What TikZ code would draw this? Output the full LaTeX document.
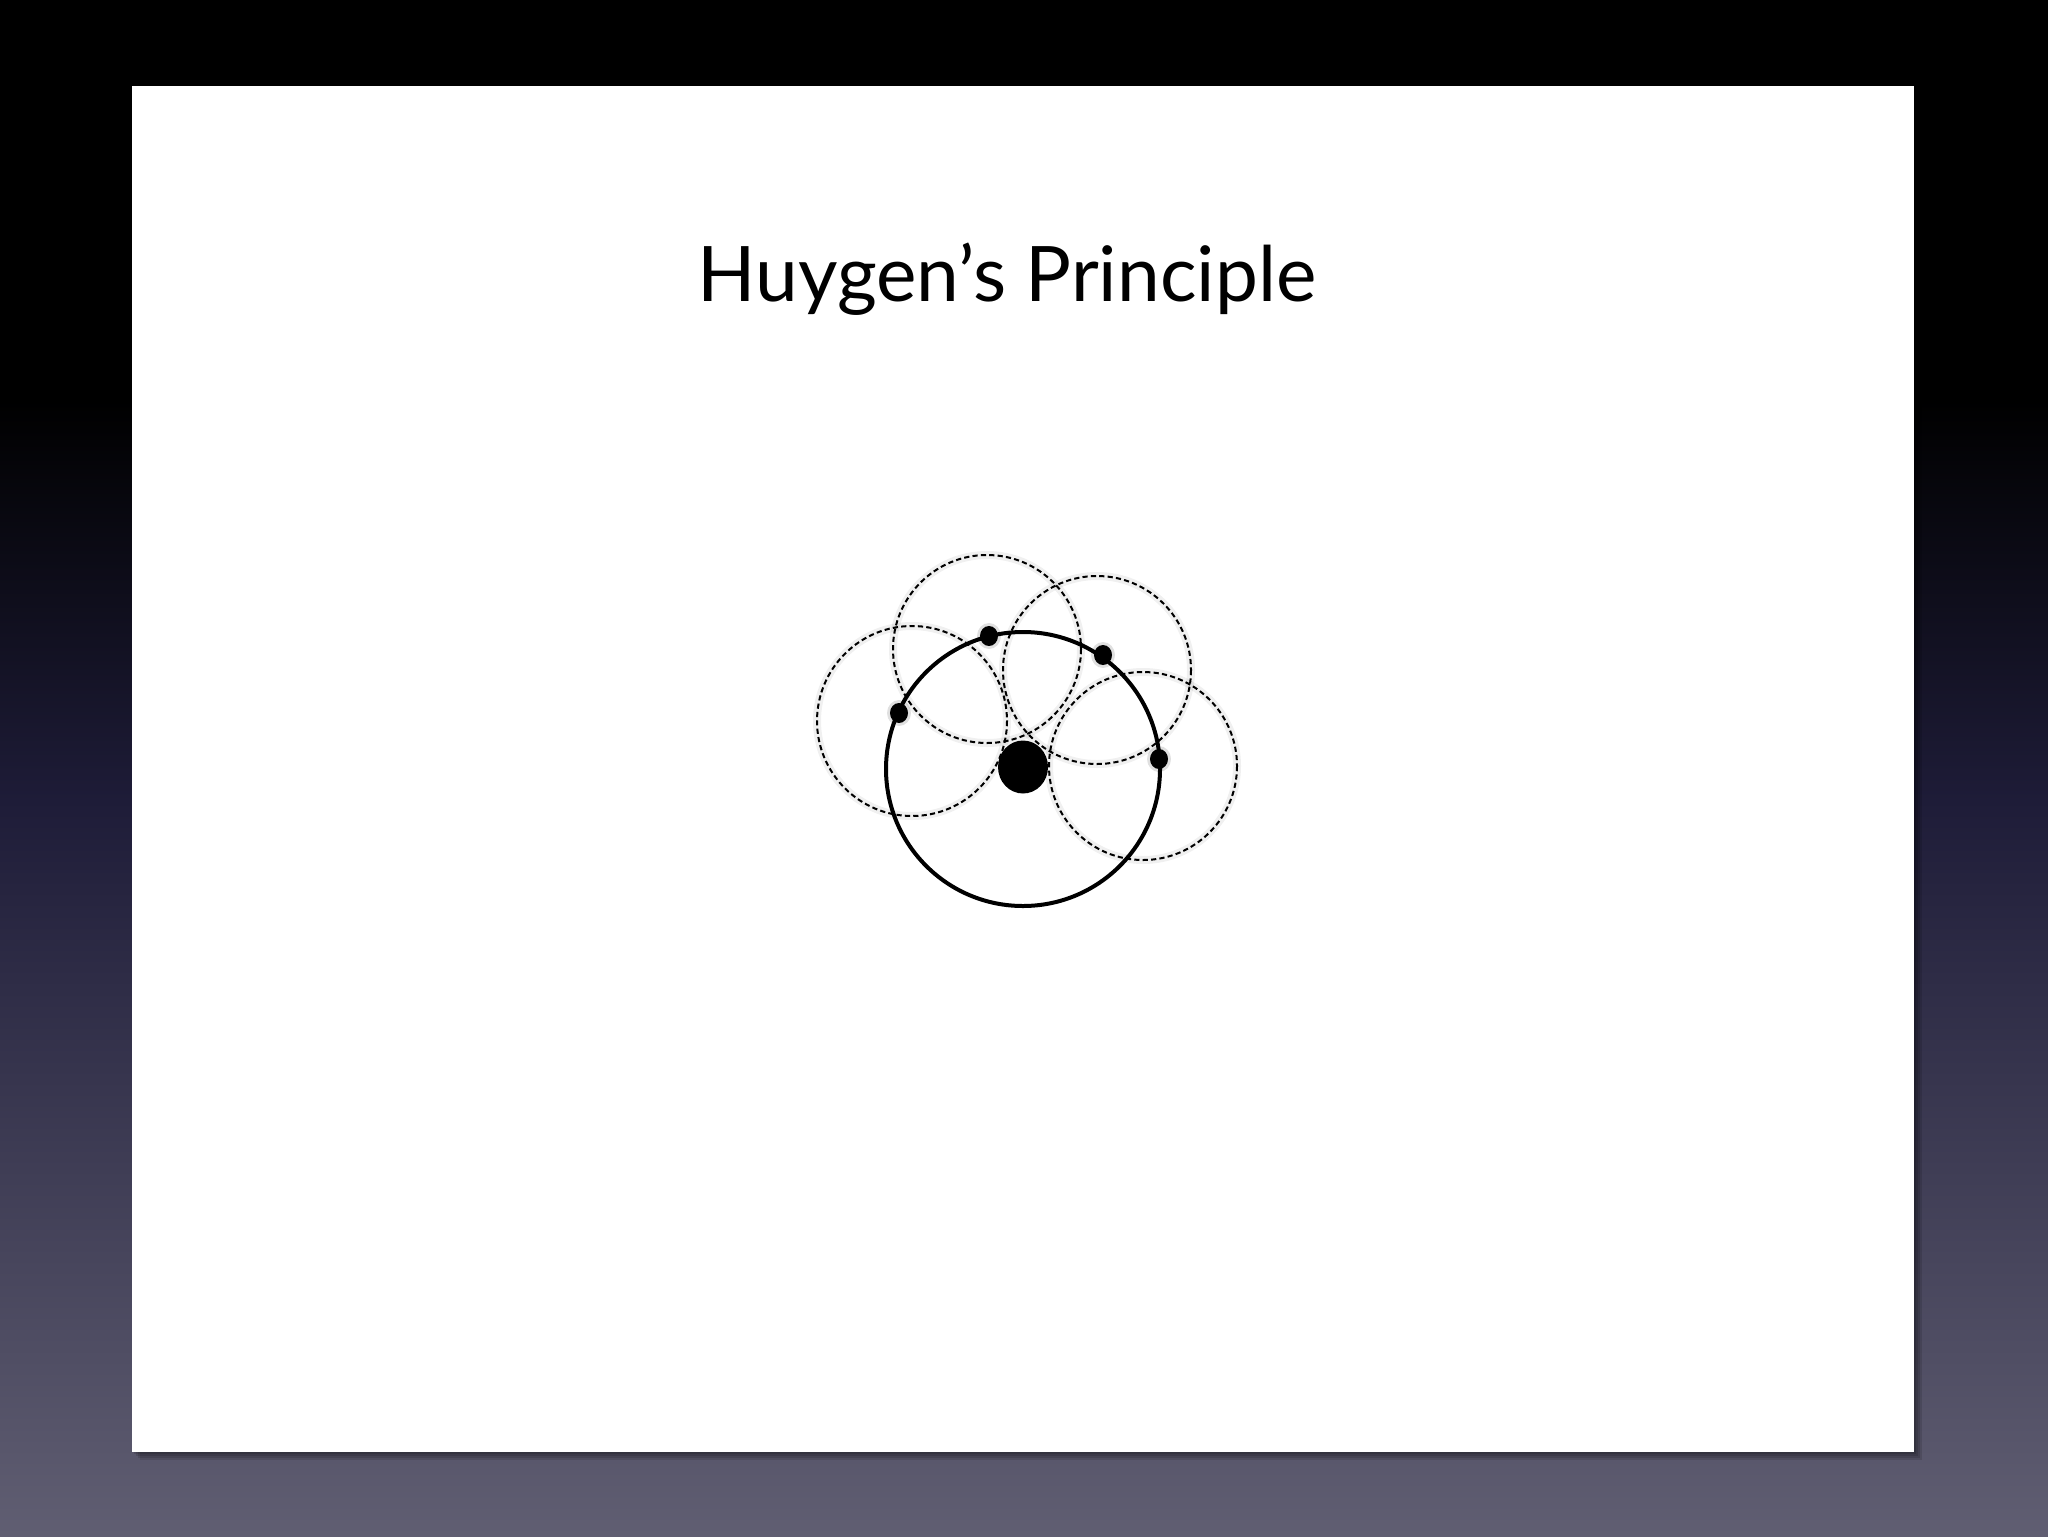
\documentclass[tikz,border=0pt]{standalone}
\usepackage{fontspec}
\setmainfont{Lato}
\definecolor{bgmid}{HTML}{1E1C38}
\definecolor{bgbot}{HTML}{605E72}
\tikzset{
  wavelet/.style={draw=black, line width=1pt, dash pattern=on 2.6pt off 1.6pt},
  halo/.style={draw=black, opacity=0.06, line width=4pt},
  front/.style={draw=black, line width=2pt},
  source/.style={fill=black},
}
\begin{document}
\begin{tikzpicture}[x=0.5pt,y=-0.5pt]
\useasboundingbox (0,0) rectangle (2048,1536);
% background
\fill[black] (0,0) rectangle (2048,401);
\shade[top color=black, bottom color=bgmid] (0,400) rectangle (2048,801);
\shade[top color=bgmid, bottom color=bgbot] (0,800) rectangle (2048,1536);
% slide shadow
\foreach \d in {2,4,6,8}
  \fill[black, opacity=0.12] (132+\d,86+\d) rectangle (1914+\d,1452+\d);
% slide
\fill[white] (132,86) rectangle (1914,1452);
% title
\node[anchor=base, inner sep=0pt, font=\fontsize{38.3}{46}\selectfont] (title) at (1007,301) {Huygen’s Principle};
% halos of wavelets
\draw[halo] (912,721) circle (95);
\draw[halo] (987,649) circle (94);
\draw[halo] (1097,670) circle (94);
\draw[halo] (1143,766) circle (94);
% wavelets
\draw[wavelet] (912,721) circle (95);
\draw[wavelet] (987,649) circle (94);
\draw[wavelet] (1097,670) circle (94);
\draw[wavelet] (1143,766) circle (94);
% wavefront
\draw[front] (1023,769) circle (137);
% source
\fill[source] (1023,767) ellipse [x radius=25, y radius=26.5];
% secondary sources
\foreach \p in {(899,713),(989,636),(1103,655),(1159,759)}{
  \fill[black, opacity=0.12] \p ellipse [x radius=12, y radius=13];
  \fill[source] \p ellipse [x radius=9, y radius=10];
}
\end{tikzpicture}
\end{document}
